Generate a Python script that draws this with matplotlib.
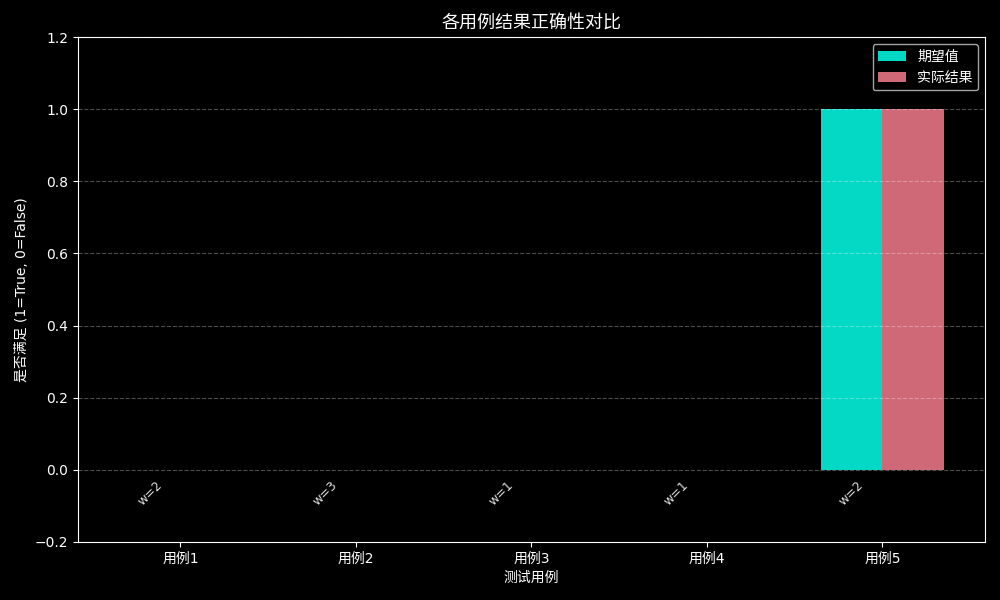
import numpy as np
import matplotlib
matplotlib.use('Agg')
import matplotlib.pyplot as plt

CASES = ['用例1', '用例2', '用例3', '用例4', '用例5']
EXPECTED = [0, 0, 0, 0, 1]
ACTUAL = [0, 0, 0, 0, 1]
WEIGHTS = [2, 3, 1, 1, 2]


def main():
    plt.style.use('dark_background')
    plt.rcParams['font.family'] = ['DejaVu Sans', 'Noto Sans CJK SC']

    x = np.arange(len(CASES))
    width = 0.35

    fig, ax = plt.subplots(figsize=(10, 6), dpi=100)
    ax.bar(x - width / 2, EXPECTED, width, color='#04d9c6', label='期望值')
    ax.bar(x + width / 2, ACTUAL, width, color='#cf6978', label='实际结果')

    for i, w in enumerate(WEIGHTS):
        ax.text(x[i] - width / 2, -0.065, f'w={w}', rotation=45,
                ha='center', va='center', fontsize=9, color='#dddddd')

    ax.set_xticks(x)
    ax.set_xticklabels(CASES)
    ax.set_ylim(-0.2, 1.2)
    ax.set_xlabel('测试用例')
    ax.set_ylabel('是否满足 (1=True, 0=False)')
    ax.set_title('各用例结果正确性对比', fontsize=13)
    ax.grid(axis='y', linestyle='--', alpha=0.3)
    ax.legend(loc='upper right')

    plt.tight_layout()
    plt.savefig('out.png', dpi=100)


if __name__ == '__main__':
    main()
